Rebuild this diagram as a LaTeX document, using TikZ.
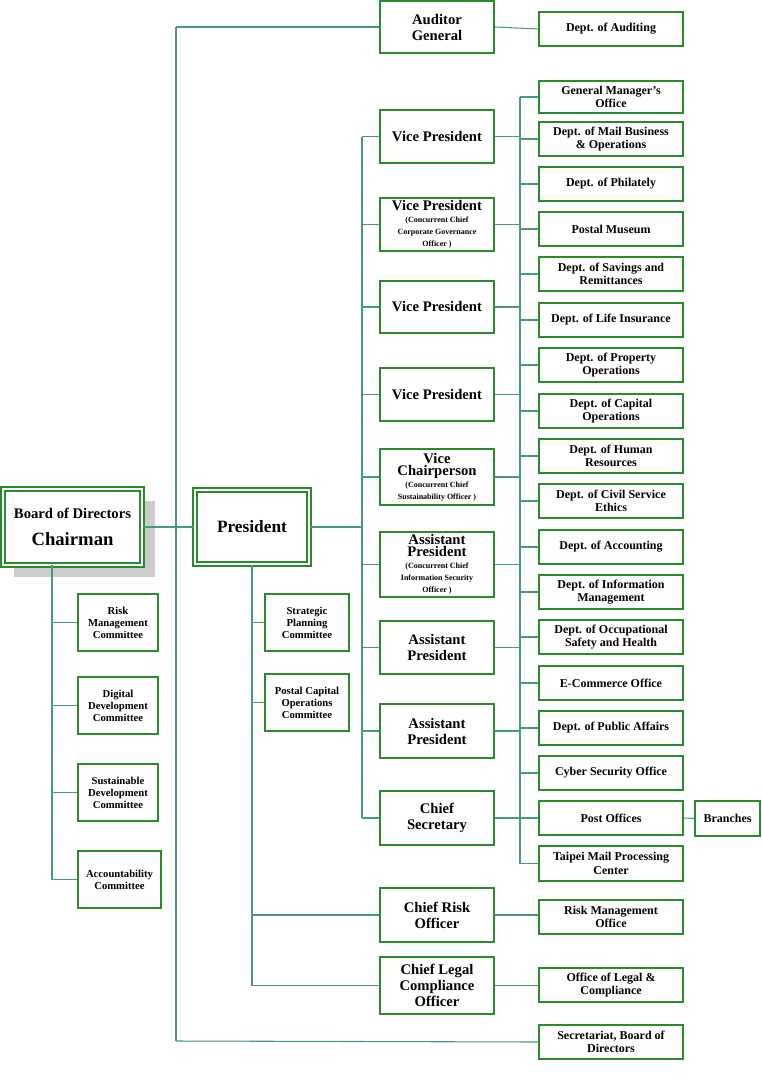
\documentclass[tikz,border=0pt]{standalone}
\usepackage{fontspec}
\setmainfont{Liberation Serif}
\definecolor{bgreen}{RGB}{40,140,45}
\definecolor{lgreen}{RGB}{70,155,115}
\begin{document}
\begin{tikzpicture}[x=0.75pt,y=-0.75pt,
 bx/.style={draw=bgreen,line width=1.4pt,fill=white,align=center,inner sep=1pt,font=\bfseries\fontsize{9}{10}\selectfont},
 mid/.style={bx,minimum width=85.5pt,font=\bfseries\fontsize{11}{12}\selectfont},
 rt/.style={bx,minimum width=108pt,minimum height=25.5pt},
 cmt/.style={bx,minimum width=60pt,font=\bfseries\fontsize{8}{9}\selectfont},
 ln/.style={draw=lgreen,line width=0.8pt}]
\useasboundingbox (0,0) rectangle (762,1086);
% shadow
\fill[black!20] (14,501) rectangle (155,577);
% main boxes
\node[bx,minimum width=104pt,minimum height=57pt,double,double distance=1.5pt,font=\bfseries\fontsize{11}{20}\selectfont] (bd) at (72.5,527) {Board of Directors\\{\fontsize{14}{16}\selectfont Chairman}};
\node[bx,minimum width=85pt,minimum height=56pt,double,double distance=1.5pt,font=\bfseries\fontsize{13}{15}\selectfont] (pr) at (252,527) {President};
% committees
\node[cmt,minimum height=42.75pt] (c1) at (118,622.5) {Risk\\Management\\Committee};
\node[cmt,minimum height=42.75pt] (c2) at (118,705.5) {Digital\\Development\\Committee};
\node[cmt,minimum height=42.75pt] (c3) at (118,792.5) {Sustainable\\Development\\Committee};
\node[cmt,minimum width=62pt,minimum height=42.75pt] (c4) at (119.5,879.5) {Accountability\\Committee};
\node[cmt,minimum width=63pt,minimum height=42.75pt] (s1) at (307,622.5) {Strategic\\Planning\\Committee};
\node[cmt,minimum width=63pt,minimum height=42.75pt] (s2) at (307,702.5) {Postal Capital\\Operations\\Committee};
% middle column
\node[mid,minimum height=39pt] (ag) at (437,27) {Auditor\\General};
\node[mid,minimum height=39.75pt] (m1) at (437,136.5) {Vice President};
\node[mid,minimum height=39.75pt] (m2) at (437,224.5) {Vice President\\[-3pt]{\fontsize{6}{6.5}\selectfont (Concurrent Chief}\\[-3pt]{\fontsize{6}{6.5}\selectfont Corporate Governance}\\[-3pt]{\fontsize{6}{6.5}\selectfont Officer )}};
\node[mid,minimum height=39pt] (m3) at (437,307) {Vice President};
\node[mid,minimum height=39.75pt] (m4) at (437,394.5) {Vice President};
\node[mid,minimum height=42pt] (m5) at (437,477) {Vice\\[-3pt]Chairperson\\[-3pt]{\fontsize{6}{6.5}\selectfont (Concurrent Chief}\\[-3pt]{\fontsize{6}{6.5}\selectfont Sustainability Officer )}};
\node[mid,minimum height=48.75pt] (m6) at (437,564.5) {Assistant\\[-3pt]President\\[-3pt]{\fontsize{6}{6.5}\selectfont (Concurrent Chief}\\[-3pt]{\fontsize{6}{6.5}\selectfont Information Security}\\[-3pt]{\fontsize{6}{6.5}\selectfont Officer )}};
\node[mid,minimum height=39.75pt] (m7) at (437,647.5) {Assistant\\President};
\node[mid,minimum height=40.5pt] (m8) at (437,731) {Assistant\\President};
\node[mid,minimum height=40.5pt] (m9) at (437,818) {Chief\\Secretary};
\node[mid,minimum height=40.5pt] (m10) at (437,915) {Chief Risk\\Officer};
\node[mid,minimum height=42.75pt] (m11) at (437,985.5) {Chief Legal\\Compliance\\Officer};
% right column
\node[rt] (r0) at (611,29) {Dept. of Auditing};
\node[rt,minimum height=24pt] (r1) at (611,97) {General Manager's\\Office};
\node[rt] (r2) at (611,139) {Dept. of Mail Business\\\& Operations};
\node[rt] (r3) at (611,184) {Dept. of Philately};
\node[rt] (r4) at (611,229) {Postal Museum};
\node[rt] (r5) at (611,274) {Dept. of Savings and\\Remittances};
\node[rt] (r6) at (611,320) {Dept. of Life Insurance};
\node[rt] (r7) at (611,365) {Dept. of Property\\Operations};
\node[rt] (r8) at (611,411) {Dept. of Capital\\Operations};
\node[rt] (r9) at (611,456) {Dept. of Human\\Resources};
\node[rt] (r10) at (611,501) {Dept. of Civil Service\\Ethics};
\node[rt] (r11) at (611,547) {Dept. of Accounting};
\node[rt] (r12) at (611,592) {Dept. of Information\\Management};
\node[rt] (r13) at (611,637) {Dept. of Occupational\\Safety and Health};
\node[rt] (r14) at (611,683) {E-Commerce Office};
\node[rt] (r15) at (611,728) {Dept. of Public Affairs};
\node[rt] (r16) at (611,773) {Cyber Security Office};
\node[rt] (r17) at (611,818) {Post Offices};
\node[rt,minimum height=26.25pt] (r18) at (611,863.5) {Taipei Mail Processing\\Center};
\node[rt] (r19) at (611,917) {Risk Management\\Office};
\node[rt] (r20) at (611,985) {Office of Legal \&\\Compliance};
\node[rt] (r21) at (611,1042) {Secretariat, Board of\\Directors};
\node[bx,minimum width=48.75pt,minimum height=26.25pt] (br) at (727.5,818.5) {Branches};
% coordinates
\coordinate (tl) at (176,27);
\coordinate (bl) at (176,1041);
\coordinate (pv1) at (362,136.5);
\coordinate (pv2) at (362,818);
\coordinate (rv1) at (520,97);
\coordinate (rv2) at (520,863.5);
% connectors
\draw[ln] (bd.east) -- (pr.west);
\draw[ln] (tl) -- (bl);
\draw[ln] (tl) -- (ag.west);
\draw[ln] (bl) -- (r21.west);
\draw[ln] (ag.east) -- (r0.west);
\draw[ln] (pr.east) -- (pr.east -| pv1);
\draw[ln] (pv1) -- (pv2);
\foreach \m in {m1,m2,m3,m4,m5,m6,m7,m8,m9} \draw[ln] (\m.west -| pv1) -- (\m.west);
\draw[ln] (rv1) -- (rv2);
\foreach \m in {m1,m2,m3,m4,m5,m6,m7,m8,m9} \draw[ln] (\m.east) -- (\m.east -| rv1);
\foreach \r in {r1,r2,r3,r4,r5,r6,r7,r8,r9,r10,r11,r12,r13,r14,r15,r16,r17,r18} \draw[ln] (\r.west -| rv1) -- (\r.west);
\draw[ln] (r17.east) -- (br.west);
\draw[ln] (m10.east) -- (m10.east -| r19.west);
\draw[ln] (m11.east) -- (m11.east -| r20.west);
\coordinate (pb) at (pr.south);
\draw[ln] (pb) -- (pb |- m11.west);
\foreach \m in {s1,s2,m10,m11} \draw[ln] (pb |- \m.west) -- (\m.west);
\coordinate (bb) at (52,565);
\draw[ln] (bb) -- (bb |- c4.west);
\foreach \m in {c1,c2,c3,c4} \draw[ln] (bb |- \m.west) -- (\m.west);
\end{tikzpicture}
\end{document}
